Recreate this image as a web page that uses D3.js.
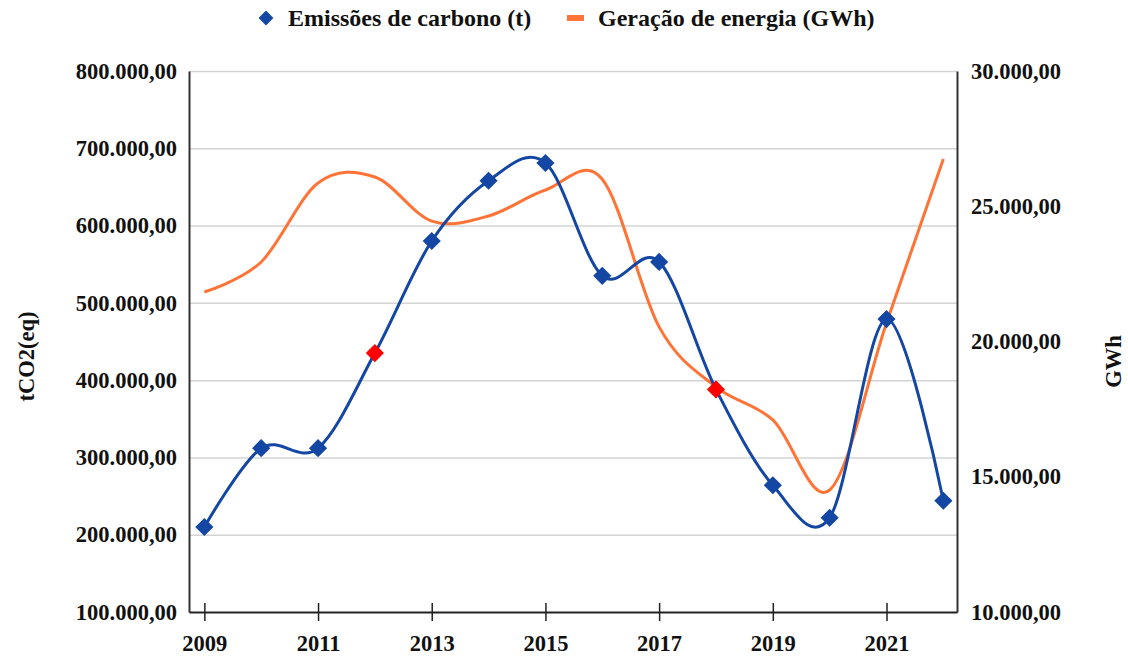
<!DOCTYPE html>
<html>
<head>
<meta charset="utf-8">
<script src="https://cdn.jsdelivr.net/npm/d3@7"></script>
<style>
  body { margin: 0; background: #fff; }
  svg text { font-family: "Liberation Serif", "DejaVu Serif", serif !important; font-weight: bold; fill: #111; }
</style>
</head>
<body>
<div id="chart"></div>
<script>
// Values
const years = [2009, 2010, 2011, 2012, 2013, 2014, 2015, 2016, 2017, 2018, 2019, 2020, 2021, 2022];
const emissions = [210000, 312000, 312000, 435000, 580000, 658000, 681000, 535000, 553000, 388000, 264000, 222000, 479000, 244000];
const energy = [21830, 22940, 25860, 26080, 24450, 24640, 25600, 26000, 20540, 18320, 17100, 14510, 20680, 26750];
const highlightYears = [2012, 2018];
const leftTicks = [100000, 200000, 300000, 400000, 500000, 600000, 700000, 800000];
const rightTicks = [10000, 15000, 20000, 25000, 30000];
const xTicks = [2009, 2011, 2013, 2015, 2017, 2019, 2021];

const W = 1128, H = 658;
const plot = { left: 189, right: 957, top: 71, bottom: 612 };
const serif = "'Liberation Serif', 'DejaVu Serif', serif";

const svg = d3.select("#chart").append("svg")
    .attr("width", W)
    .attr("height", H)
    .attr("font-family", serif);

// Scales
const x = d3.scaleLinear()
    .domain([2008.73, 2022.24])
    .range([plot.left, plot.right]);

const yL = d3.scaleLinear()
    .domain([100000, 800000])
    .range([plot.bottom, plot.top]);

const yR = d3.scaleLinear()
    .domain([10000, 30000])
    .range([plot.bottom, plot.top]);

// pt-BR number format: 800.000,00
const fmt = d3.formatLocale({ decimal: ",", thousands: ".", grouping: [3], currency: ["R$", ""] }).format(",.2f");

// Horizontal grid lines
svg.append("g")
    .attr("class", "grid")
    .attr("transform", `translate(${plot.left},0)`)
    .call(d3.axisLeft(yL).tickValues(leftTicks.slice(1)).tickSize(-(plot.right - plot.left)).tickFormat(""))
    .call(g => g.select(".domain").remove())
    .selectAll("line")
    .attr("stroke", "#d4d4d4")
    .attr("stroke-width", 1.5);

// Left axis
const leftAxis = svg.append("g")
    .attr("transform", `translate(${plot.left},0)`)
    .call(d3.axisLeft(yL).tickValues(leftTicks).tickSize(0).tickPadding(12).tickFormat(fmt))
    .attr("font-family", serif);
leftAxis.select(".domain").attr("stroke", "#333").attr("stroke-width", 2);
leftAxis.selectAll("text").style("font-size", "22.5px").attr("dy", "0.32em");

// Right axis
const rightAxis = svg.append("g")
    .attr("transform", `translate(${plot.right},0)`)
    .call(d3.axisRight(yR).tickValues(rightTicks).tickSize(0).tickPadding(14).tickFormat(fmt))
    .attr("font-family", serif);
rightAxis.select(".domain").attr("stroke", "#333").attr("stroke-width", 2);
rightAxis.selectAll("text").style("font-size", "22.5px").attr("dy", "0.32em");

// Bottom axis, ticks crossing the line
const bottomAxis = svg.append("g")
    .attr("transform", `translate(0,${plot.bottom})`)
    .call(d3.axisBottom(x).tickValues(xTicks).tickSize(0).tickPadding(23).tickFormat(d3.format("d")))
    .attr("font-family", serif);
bottomAxis.select(".domain").attr("stroke", "#222").attr("stroke-width", 2);
bottomAxis.selectAll(".tick line")
    .attr("y1", -9)
    .attr("y2", 9)
    .attr("stroke", "#222")
    .attr("stroke-width", 1.5);
bottomAxis.selectAll("text").style("font-size", "22.5px");

// Axis titles
svg.append("text")
    .attr("transform", `translate(26,${(plot.top + plot.bottom) / 2 + 15}) rotate(-90)`)
    .attr("text-anchor", "middle")
    .attr("dy", "0.35em")
    .style("font-size", "22.5px")
    .text("tCO2(eq)");

svg.append("text")
    .attr("transform", `translate(1113,${(plot.top + plot.bottom) / 2 + 20}) rotate(-90)`)
    .attr("text-anchor", "middle")
    .attr("dy", "0.35em")
    .style("font-size", "22.5px")
    .text("GWh");

// Lines (smoothed like the spreadsheet chart)
const energyLine = d3.line()
    .x((d, i) => x(years[i]))
    .y(d => yR(d))
    .curve(d3.curveCardinal.tension(0));

const emissionsLine = d3.line()
    .x((d, i) => x(years[i]))
    .y(d => yL(d))
    .curve(d3.curveCardinal.tension(0));

svg.append("path")
    .datum(energy)
    .attr("fill", "none")
    .attr("stroke", "#ff7436")
    .attr("stroke-width", 3)
    .attr("d", energyLine);

svg.append("path")
    .datum(emissions)
    .attr("fill", "none")
    .attr("stroke", "#1446a3")
    .attr("stroke-width", 3)
    .attr("d", emissionsLine);

// Diamond markers
const diamond = d3.symbol().type(d3.symbolSquare).size(165);
svg.selectAll(".marker")
    .data(emissions)
    .enter()
    .append("path")
    .attr("class", "marker")
    .attr("d", diamond)
    .attr("transform", (d, i) => `translate(${x(years[i])},${yL(d)}) rotate(45)`)
    .attr("fill", (d, i) => highlightYears.includes(years[i]) ? "#ff0000" : "#1446a3");

// Legend
const legend = svg.append("g").attr("transform", "translate(0,18)");
legend.append("path")
    .attr("d", d3.symbol().type(d3.symbolSquare).size(110))
    .attr("transform", "translate(266,0) rotate(45)")
    .attr("fill", "#1446a3");
legend.append("text")
    .attr("x", 288)
    .attr("dy", "0.35em")
    .style("font-size", "24px")
    .text("Emissões de carbono (t)");
legend.append("rect")
    .attr("x", 567)
    .attr("y", -3)
    .attr("width", 17)
    .attr("height", 6)
    .attr("fill", "#ff7436");
legend.append("text")
    .attr("x", 598)
    .attr("dy", "0.35em")
    .style("font-size", "24px")
    .text("Geração de energia (GWh)");
</script>
</body>
</html>
